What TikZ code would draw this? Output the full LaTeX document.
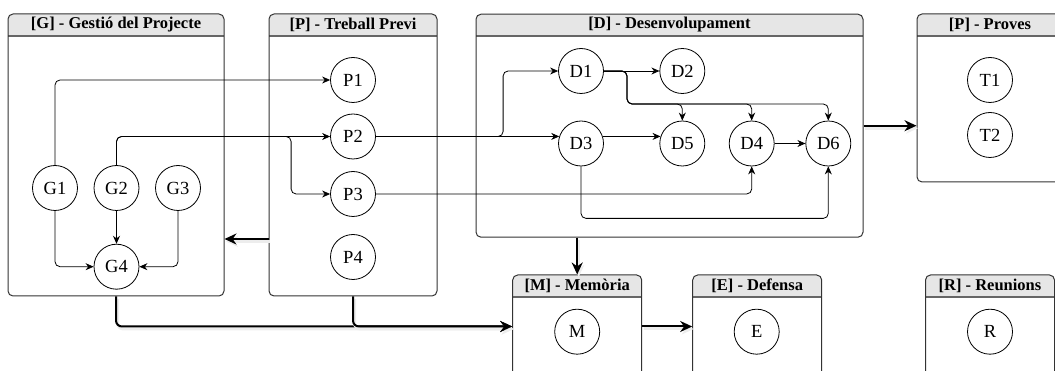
\documentclass[tikz,border=0pt]{standalone}
\usepackage{fontspec}
\setmainfont{Liberation Serif}
\usetikzlibrary{arrows.meta,calc}

\definecolor{headgray}{HTML}{E6E6E6}
\definecolor{framegray}{HTML}{333333}

\tikzset{
  panel/.style={draw=framegray, line width=1pt, rounded corners=5pt, fill=white,
    path picture={
      \fill[headgray, sharp corners] (path picture bounding box.north west)
        rectangle ([yshift=-22pt]path picture bounding box.north east);
      \draw[black!60, line width=1.4pt, sharp corners]
        ([yshift=-22pt]path picture bounding box.north west)
        -- ([yshift=-22pt]path picture bounding box.north east);
    }},
  paneltitle/.style={font=\fontsize{16.5}{18}\selectfont\bfseries, inner sep=0pt},
  task/.style={circle, draw, fill=white, line width=0.8pt, minimum size=45pt,
    inner sep=0pt, font=\fontsize{18.5}{20}\selectfont},
  link/.style={-{Stealth[length=8pt,width=7pt]}, line width=0.8pt, rounded corners=5pt},
  flow/.style={-{Stealth[length=12pt,width=11pt]}, line width=2pt, rounded corners=6pt,
    preaction={draw=black!7, line width=3pt, transform canvas={shift={(1.5pt,-2.5pt)}}}}
}

\begin{document}
\begin{tikzpicture}[x=1pt, y=-1pt]

    \useasboundingbox (0,0) rectangle (1055,371);
    \clip (0,0) rectangle (1055,371);

    % Blocs
    \node[panel, minimum width=216, minimum height=282] (Gbox) at (116,155) {};
    \node[panel, minimum width=168, minimum height=282] (Pbox) at (353,155) {};
    \node[panel, minimum width=387, minimum height=223] (Dbox) at (669.5,125.7) {};
    \node[panel, minimum width=146, minimum height=168] (Tbox) at (990,98) {};
    \node[panel, minimum width=129, minimum height=103] (Mbox) at (577.2,326.5) {};
    \node[panel, minimum width=129, minimum height=103] (Ebox) at (757.2,326.5) {};
    \node[panel, minimum width=129, minimum height=103] (Rbox) at (990,326.5) {};

    % Titols
    \node[paneltitle] at ([yshift=-11pt]Gbox.north) {[G] - Gestió del Projecte};
    \node[paneltitle] at ([yshift=-11pt]Pbox.north) {[P] - Treball Previ};
    \node[paneltitle] at ([yshift=-11pt]Dbox.north) {[D] - Desenvolupament};
    \node[paneltitle] at ([yshift=-11pt]Tbox.north) {[P] - Proves};
    \node[paneltitle] at ([yshift=-11pt]Mbox.north) {[M] - Memòria};
    \node[paneltitle] at ([yshift=-11pt]Ebox.north) {[E] - Defensa};
    \node[paneltitle] at ([yshift=-11pt]Rbox.north) {[R] - Reunions};

    % Tasques
    \node[task] (G1) at (55,188) {G1};
    \node[task] (G2) at (116.5,188) {G2};
    \node[task] (G3) at (178,188) {G3};
    \node[task] (G4) at (116.5,266.7) {G4};

    \node[task] (P1) at (353,80) {P1};
    \node[task] (P2) at (353,136.5) {P2};
    \node[task] (P3) at (353,194) {P3};
    \node[task] (P4) at (353,257) {P4};

    \node[task] (D1) at (581,71) {D1};
    \node[task] (D2) at (682.3,71) {D2};
    \node[task] (D3) at (581,143.5) {D3};
    \node[task] (D5) at (682.3,143.5) {D5};
    \node[task] (D4) at (751.7,143.5) {D4};
    \node[task] (D6) at (828.3,143.5) {D6};

    \node[task] (T1) at (990,80) {T1};
    \node[task] (T2) at (990,135) {T2};

    \node[task] (M) at (577.2,331.7) {M};
    \node[task] (E) at (756.7,331.7) {E};
    \node[task] (R) at (990,331.7) {R};

    \coordinate (Dfork) at (627,104);

    % Dependencies
    \draw[link] (G1.north) |- (P1.west);
    \draw[link] (G2.north) |- (P2.west);
    \draw[link] (G2.north) |- ([xshift=-39pt]P2.west) |- (P3.west);
    \draw[link] (G1.south) |- (G4.west);
    \draw[link] (G2) -- (G4);
    \draw[link] (G3.south) |- (G4.east);

    \draw[link] (P2.east) -| ([xshift=-55pt]D1.west) -- (D1.west);
    \draw[link] (P2.east) -- (D3.162);
    \draw[link] (P3.east) -| (D4.south);

    \draw[link] (D1) -- (D2);
    \draw[link] (D1.east) -| (Dfork) -| (D5.north);
    \draw[link] (D1.east) -| (Dfork) -| (D4.north);
    \draw[link] (D1.east) -| (Dfork) -| (D6.north);
    \draw[link] (D3.18) -- (D5.162);
    \draw[link] (D4) -- (D6);
    \draw[link] (D3.south) -- ++(0,52) -| (D6.south);

    % Fluxos entre blocs
    \draw[flow] (Dbox.east) -- (Tbox.west |- Dbox.east);
    \draw[flow] (Mbox.north |- Dbox.south) -- (Mbox.north);
    \draw[flow] ([yshift=-84pt]Pbox.west) -- ([yshift=-84pt]Gbox.east);
    \draw[flow] (Gbox.south) |- (Mbox.west);
    \draw[flow] (Pbox.south) |- (Mbox.west);
    \draw[flow] (Mbox.east) -- (Ebox.west);

\end{tikzpicture}
\end{document}
